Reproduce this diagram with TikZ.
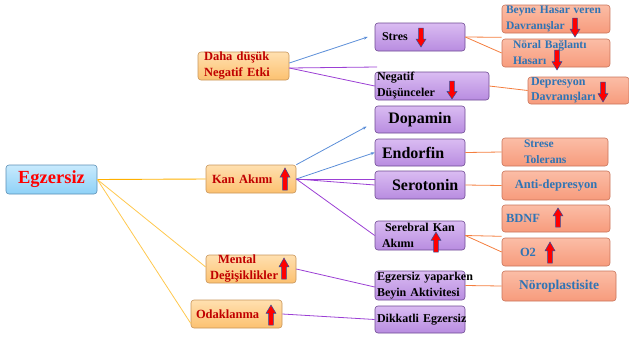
\documentclass[tikz,border=0pt]{standalone}
\usepackage{fontspec}
\setmainfont{Liberation Serif}
\usetikzlibrary{arrows.meta}
\definecolor{egztop}{HTML}{C8EAFD}
\definecolor{egzbot}{HTML}{8ED1F7}
\definecolor{egzedge}{HTML}{5A8FB5}
\definecolor{ortop}{HTML}{FFE0B0}
\definecolor{orbot}{HTML}{FCC170}
\definecolor{oredge}{HTML}{C8955A}
\definecolor{ortext}{HTML}{C00000}
\definecolor{purtop}{HTML}{DABCF2}
\definecolor{purbot}{HTML}{B88CE0}
\definecolor{puredge}{HTML}{6F4A93}
\definecolor{saltop}{HTML}{FBBDA6}
\definecolor{salbot}{HTML}{F79B7C}
\definecolor{saledge}{HTML}{C9745A}
\definecolor{saltext}{HTML}{2F74B5}
\definecolor{linamber}{HTML}{FFB000}
\definecolor{linamber2}{HTML}{FFC84E}
\definecolor{linblue}{HTML}{5B8ED8}
\definecolor{linpurple}{HTML}{9B3FD4}
\definecolor{linsalmon}{HTML}{F47E3E}
\definecolor{arrred}{HTML}{FF0000}
\definecolor{arrblue}{HTML}{3050A0}

\tikzset{
  egzbox/.style={draw=egzedge, top color=egztop, bottom color=egzbot,
    rounded corners=3pt, line width=0.6pt, inner ysep=0pt, text=red,
    font=\fontsize{18.5}{20}\selectfont\bfseries},
  orbox/.style={draw=oredge, top color=ortop, bottom color=orbot,
    rounded corners=3pt, line width=0.6pt, inner ysep=0pt, align=left, text=ortext,
    font=\fontsize{12.5}{16}\selectfont\bfseries},
  purbox/.style={draw=puredge, top color=purtop, bottom color=purbot,
    rounded corners=3pt, line width=0.6pt, inner ysep=0pt, align=left,
    font=\fontsize{12}{16}\selectfont\bfseries},
  salbox/.style={draw=saledge, top color=saltop, bottom color=salbot,
    rounded corners=3pt, line width=0.6pt, inner ysep=0pt, align=left, text=saltext,
    font=\fontsize{11.5}{16}\selectfont\bfseries},
  bigtxt/.style={font=\fontsize{16}{18}\selectfont\bfseries},
  midtxt/.style={font=\fontsize{12.5}{15}\selectfont\bfseries},
  orline/.style={draw=linamber, line width=0.9pt},
  orline2/.style={draw=linamber2, line width=0.8pt},
  blueline/.style={draw=linblue, line width=0.8pt, -{Stealth[length=4pt,width=3pt]}},
  purline/.style={draw=linpurple, line width=0.8pt},
  salline/.style={draw=linsalmon, line width=0.8pt},
  redarr/.style={fill=arrred, draw=arrblue, line width=0.5pt}
}

% red block arrows: x, y of top, y of bottom
\newcommand{\redup}[3]{\filldraw[redarr] ({#1-2.4},#3) -- ({#1-2.4},{#2+0.42*(#3-#2)})
  -- ({#1-5},{#2+0.42*(#3-#2)}) -- (#1,#2) -- ({#1+5},{#2+0.42*(#3-#2)})
  -- ({#1+2.4},{#2+0.42*(#3-#2)}) -- ({#1+2.4},#3) -- cycle;}
\newcommand{\reddown}[3]{\filldraw[redarr] ({#1-2.4},#2) -- ({#1-2.4},{#3-0.42*(#3-#2)})
  -- ({#1-5},{#3-0.42*(#3-#2)}) -- (#1,#3) -- ({#1+5},{#3-0.42*(#3-#2)})
  -- ({#1+2.4},{#3-0.42*(#3-#2)}) -- ({#1+2.4},#2) -- cycle;}

\begin{document}
\begin{tikzpicture}[x=1pt,y=-1pt]
  \useasboundingbox (0,0) rectangle (629,338);

  % left column
  \node[egzbox, minimum width=91, minimum height=29] (egz) at (51.5,179.5) {Egzersiz};
  \node[orbox, minimum height=28, inner xsep=6, text width=79] (daha) at (243.5,66) {Daha düşük\\Negatif Etki};
  \node[orbox, minimum height=28, inner xsep=6, text width=78] (kan) at (251,179) {Kan Akımı};
  \node[orbox, minimum height=28, inner xsep=4, text width=82] (mental) at (251,269) {\hspace*{8pt}Mental\\Değişiklikler};
  \node[orbox, minimum height=28, inner xsep=5, text width=81] (odak) at (236.5,314) {Odaklanma};

  % middle column
  \node[purbox, minimum height=28, inner xsep=7, text width=76] (stres) at (420,37) {Stres};
  \node[purbox, minimum height=28, inner xsep=2, text width=110] (negatif) at (432,86) {Negatif\\Düşünceler};
  \node[purbox, bigtxt, minimum width=90, minimum height=27, align=center] (dopamin) at (420,119.5) {Dopamin};
  \node[purbox, bigtxt, minimum height=27, inner xsep=7, text width=76] (endorfin) at (420,152.5) {Endorfin};
  \node[purbox, bigtxt, minimum height=28, inner xsep=17, text width=56] (serotonin) at (420,185) {Serotonin};
  \node[purbox, minimum height=29, inner xsep=10, text width=70] (serebral) at (420,235.5) {\mbox{Serebral Kan}\\\hspace*{-3pt}Akımı};
  \node[purbox, minimum height=29, inner xsep=2, text width=86] (beyin) at (420,285.5) {\mbox{Egzersiz yaparken}\\\mbox{Beyin Aktivitesi}};
  \node[purbox, minimum height=27, inner xsep=2, text width=86] (dikkat) at (420,319.5) {\mbox{Dikkatli Egzersiz}};

  % right column
  \node[salbox, minimum height=28, inner xsep=4, text width=100] (hasar) at (556,19) {\mbox{Beyne Hasar veren}\\Davranışlar};
  \node[salbox, minimum height=28, inner xsep=11, text width=86] (noral) at (556,53) {Nöral Bağlantı\\Hasarı};
  \node[salbox, font=\fontsize{12}{15}\selectfont\bfseries, minimum height=27, inner xsep=3, text width=95] (depres) at (578.5,90.5) {Depresyon\\Davranışları};
  \node[salbox, minimum height=28, inner xsep=22, text width=62] (strese) at (555,152) {Strese\\Tolerans};
  \node[salbox, midtxt, minimum width=108, minimum height=29, align=center] (anti) at (556,185.5) {Anti-depresyon};
  \node[salbox, midtxt, minimum height=27, inner xsep=4, text width=100] (bdnf) at (556,218.5) {BDNF};
  \node[salbox, midtxt, minimum height=28, inner xsep=18, text width=72] (o2) at (556,252) {O2};
  \node[salbox, font=\fontsize{13.5}{15}\selectfont\bfseries, minimum width=114, minimum height=30, align=center] (noro) at (559,286) {Nöroplastisite};

  % connectors
  \draw[orline] (egz.east) -- (kan.west);
  \draw[orline2] (egz.east) -- ([yshift=2]mental.west);
  \draw[orline2] (egz.east) -- ([yshift=5]odak.south west);
  \coordinate (dahaend) at (377,67);
  \draw[blueline] ([yshift=3]daha.east) -- ([xshift=-7]stres.west);
  \draw[purline] ([yshift=-2]daha.east) -- (dahaend);
  \draw[purline] ([yshift=-2]daha.east) -- (negatif.west);
  \draw[blueline] (kan.north east) -- ([xshift=-8,yshift=-7]dopamin.west);
  \draw[blueline] (kan.east) -- (endorfin.west);
  \draw[purline] (kan.east) -- ([yshift=6]serotonin.west);
  \draw[purline] (kan.east) -- (serotonin.west);
  \draw[purline] (kan.east) -- (serebral.west);
  \draw[purline] (mental.east) -- ([yshift=-1.5]beyin.west);
  \draw[purline] (odak.east) -- (dikkat.west);
  \draw[salline] (stres.east) -- ([yshift=-4]hasar.south west);
  \draw[salline] (stres.east) -- (noral.west);
  \draw[salline] (negatif.east) -- (depres.west);
  \draw[salline] (endorfin.east) -- (strese.west);
  \draw[salline] (serotonin.east) -- (anti.west);
  \draw[salline] (serebral.east) -- ([yshift=-4]bdnf.south west);
  \draw[salline] (serebral.east) -- (o2.west);
  \draw[salline] (beyin.east) -- (noro.west);

  % up / down marks
  \reddown{421}{28}{47}
  \reddown{575}{18}{37}
  \reddown{557}{50}{70}
  \reddown{452}{81}{99}
  \reddown{603}{82}{102}
  \redup{285}{168}{190}
  \redup{284}{258}{279}
  \redup{271}{305}{325}
  \redup{436}{232}{252}
  \redup{558}{208}{227}
  \redup{550}{242}{263}
\end{tikzpicture}
\end{document}
